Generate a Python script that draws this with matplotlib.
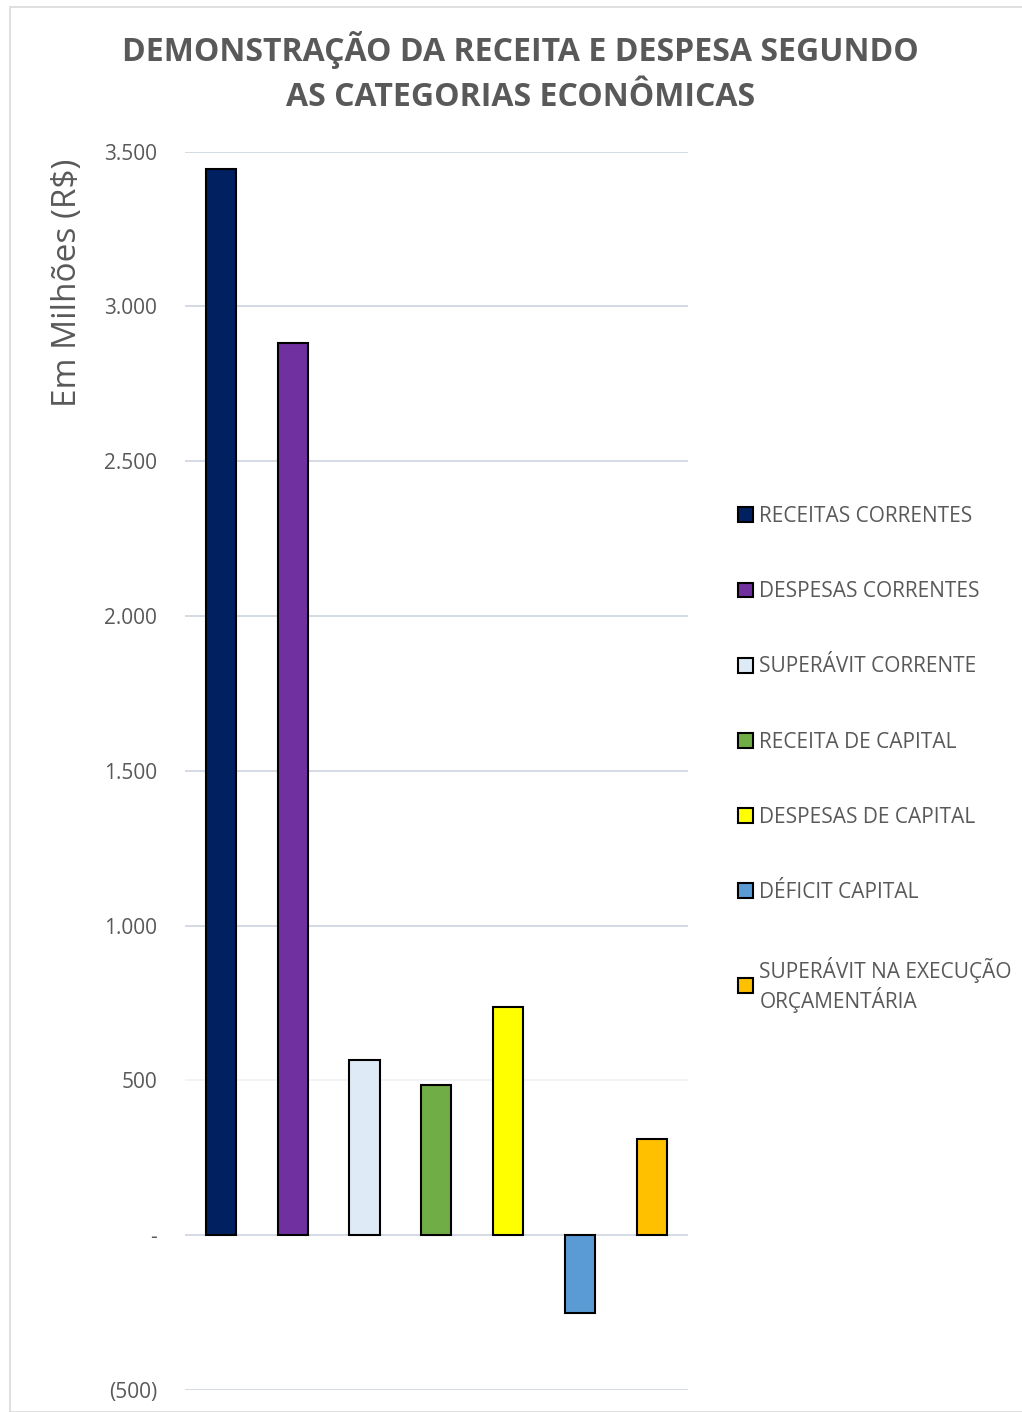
import matplotlib.pyplot as plt
from matplotlib.patches import Rectangle
from matplotlib.ticker import FuncFormatter

# data (R$ millions)
categories = ['RECEITAS CORRENTES', 'DESPESAS CORRENTES', 'SUPERÁVIT CORRENTE',
              'RECEITA DE CAPITAL', 'DESPESAS DE CAPITAL', 'DÉFICIT CAPITAL',
              'SUPERÁVIT NA EXECUÇÃO\nORÇAMENTÁRIA']
values = [3445, 2882, 565, 484, 738, -252, 310]
colors = ['#002060', '#7030A0', '#DEEBF7', '#70AD47', '#FFFF00', '#5B9BD5', '#FFC000']
yticks = [-500, 0, 500, 1000, 1500, 2000, 2500, 3000, 3500]

plt.rcParams['font.family'] = ['Open Sans', 'DejaVu Sans']
gray = '#595959'

fig = plt.figure(figsize=(10.22, 14.12), dpi=100)
ax = fig.add_axes([0.181, 0.0156, 0.492, 0.877])

# light border around the chart area
fig.patches.append(Rectangle((10 / 1022, 0), 1.0, 1 - 7 / 1412, transform=fig.transFigure,
                             fill=False, edgecolor='#D9D9D9', linewidth=1.2))

for i, (cat, val, col) in enumerate(zip(categories, values, colors)):
    ax.bar(i, val, width=0.42, color=col, edgecolor='black', linewidth=1.5,
           label=cat, zorder=3)

ax.set_xlim(-0.5, len(categories) - 0.5)
ax.set_ylim(-500, 3500)
ax.set_yticks(yticks)


def fmt(v, pos):
    if v == 0:
        return '-'
    s = f'{abs(v):,.0f}'.replace(',', '.')
    return f'({s})' if v < 0 else s


ax.yaxis.set_major_formatter(FuncFormatter(fmt))
ax.set_xticks([])
ax.tick_params(axis='y', length=0, labelsize=15, labelcolor=gray, pad=20)
ax.grid(axis='y', color='#D0D8E2', linewidth=1.3, zorder=0)
for t, gl in zip(yticks, ax.yaxis.get_gridlines()):
    if t == 500:
        gl.set_color('#F0F3F6')
for s in ax.spines.values():
    s.set_visible(False)

ax.set_ylabel('Em Milhões (R$)', fontsize=24, color=gray)
ax.yaxis.set_label_coords(-0.2, 0.894)

fig.text(0.509, 0.9487, 'DEMONSTRAÇÃO DA RECEITA E DESPESA SEGUNDO\nAS CATEGORIAS ECONÔMICAS',
         ha='center', va='center', fontsize=23, fontweight='bold', color=gray,
         linespacing=1.5)

fig.legend(loc='center left', bbox_to_anchor=(0.704, 0.462), frameon=False,
           fontsize=15, labelcolor=gray, labelspacing=2.6, handlelength=0.72,
           handleheight=0.72, handletextpad=0.3)

fig.savefig('out.png', dpi=100)
